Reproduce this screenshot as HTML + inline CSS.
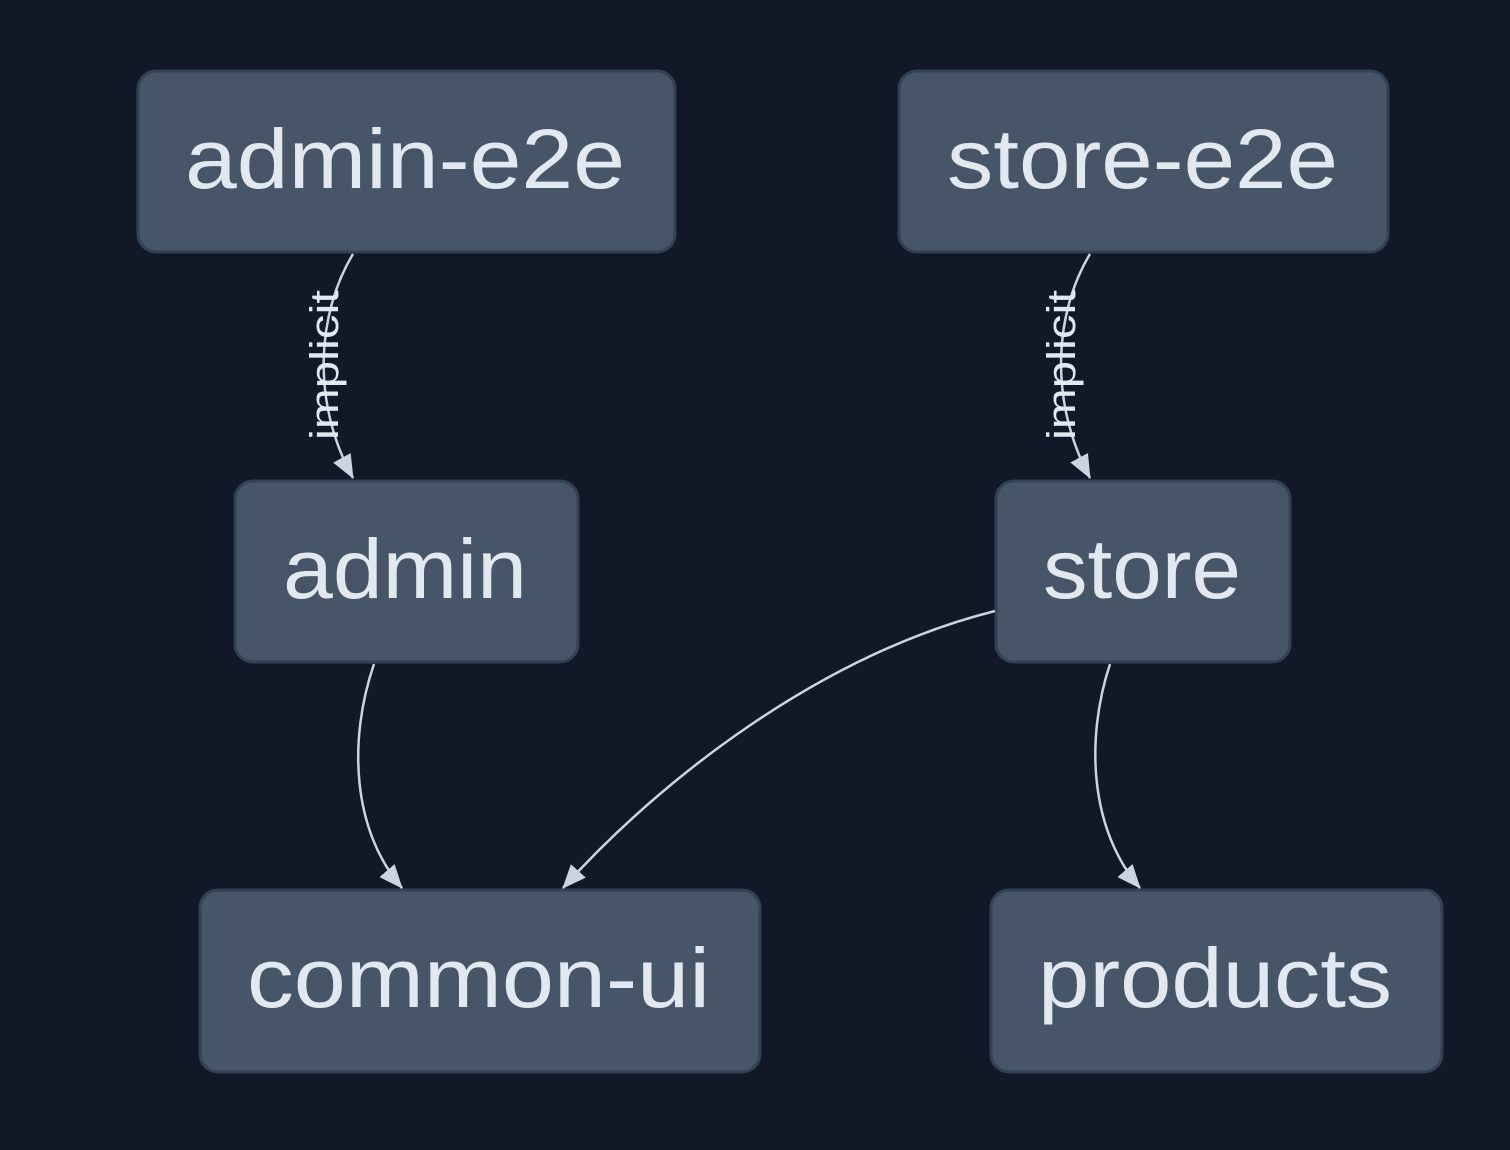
<!DOCTYPE html>
<html><head><style>
html,body{margin:0;padding:0;background:#111827;}
svg{display:block;}
text{font-family:"Liberation Sans",sans-serif;fill:#e2e8f0;}
</style></head><body>
<svg width="1510" height="1150" viewBox="0 0 1510 1150">
<defs>
<marker id="ar" viewBox="0 0 24 20" refX="23" refY="10" markerWidth="24" markerHeight="20" markerUnits="userSpaceOnUse" orient="auto">
<path d="M0,0 L24,10 L0,20 Z" fill="#cbd5e1"/>
</marker>
</defs>
<rect width="1510" height="1150" fill="#111827"/>
<g fill="#475569" stroke="#334155" stroke-width="3">
<rect x="138" y="71" width="537" height="181" rx="18"/>
<rect x="899" y="71" width="489" height="181" rx="18"/>
<rect x="235" y="481" width="343" height="181" rx="18"/>
<rect x="996" y="481" width="294" height="181" rx="18"/>
<rect x="200" y="890" width="560" height="182" rx="18"/>
<rect x="991" y="890" width="451" height="182" rx="18"/>
</g>
<g font-size="84">
<text x="185" y="188" textLength="440" lengthAdjust="spacingAndGlyphs">admin-e2e</text>
<text x="947" y="188" textLength="391" lengthAdjust="spacingAndGlyphs">store-e2e</text>
<text x="283" y="598" textLength="244" lengthAdjust="spacingAndGlyphs">admin</text>
<text x="1043" y="598" textLength="198" lengthAdjust="spacingAndGlyphs">store</text>
<text x="247" y="1007" textLength="463" lengthAdjust="spacingAndGlyphs">common-ui</text>
<text x="1038" y="1007" textLength="354" lengthAdjust="spacingAndGlyphs">products</text>
</g>
<g fill="none" stroke="#cbd5e1" stroke-width="2.5" marker-end="url(#ar)">
<path d="M353,254 C318,312 310,400 353,478"/>
<path d="M1090,254 C1055,312 1048,400 1090,478"/>
<path d="M374,664 C348,740 352,830 402,888"/>
<path d="M995,611 C820,655 660,780 563,888"/>
<path d="M1110,664 C1085,740 1090,830 1140,888"/>
</g>
<g font-size="40" style="fill:#cbd5e1">
<text transform="translate(338,440) rotate(-90)" textLength="150" lengthAdjust="spacingAndGlyphs">implicit</text>
<text transform="translate(1075,440) rotate(-90)" textLength="150" lengthAdjust="spacingAndGlyphs">implicit</text>
</g>
</svg>
</body></html>
